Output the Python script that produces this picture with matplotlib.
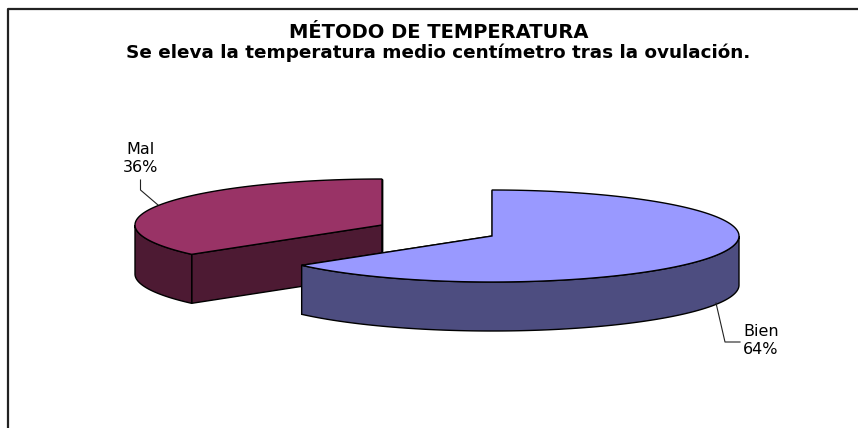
import numpy as np
import matplotlib
matplotlib.use('Agg')
import matplotlib.pyplot as plt
from matplotlib.patches import Polygon

plt.rcParams['font.family'] = ['DejaVu Sans']

# Chart data
categories = ['Bien', 'Mal']
values = [64, 36]
title_lines = ['MÉTODO DE TEMPERATURA',
               'Se eleva la temperatura medio centímetro tras la ovulación.']

top_colors = ['#9999ff', '#993366']
side_colors = ['#4d4d80', '#4d1a33']

rx, ry, depth = 247, 46, 49
centers = [(492, 236), (382, 225)]

# Image pixel coordinates, y pointing down
fig = plt.figure(figsize=(8.58, 4.28), dpi=100)
ax = fig.add_axes([0, 0, 1, 1])
ax.set_xlim(0, 858)
ax.set_ylim(428, 0)
ax.axis('off')

# Outer frame, only top and left show in the crop
ax.plot([7.5, 7.5, 858], [428, 8.5, 8.5], color='#222222', lw=1.6, zorder=1)


def rim(center, a0, a1, n=200):
    # angles in degrees, clockwise from 12 o'clock
    t = np.radians(np.linspace(a0, a1, n))
    return center[0] + rx * np.sin(t), center[1] - ry * np.cos(t)


def draw_slice(center, a0, a1, top, side, z):
    cx, cy = center
    # flat cut faces
    for a in (a0, a1):
        x, y = rim(center, a, a, 1)
        face = [(cx, cy), (x[0], y[0]), (x[0], y[0] + depth), (cx, cy + depth)]
        ax.add_patch(Polygon(face, closed=True, fc=side, ec='black', lw=1, zorder=z))
    # outer wall, front half only
    lo, hi = max(a0, 90), min(a1, 270)
    if hi > lo:
        x, y = rim(center, lo, hi)
        wall = np.r_[np.c_[x, y], np.c_[x, y + depth][::-1]]
        ax.add_patch(Polygon(wall, closed=True, fc=side, ec='black', lw=1, zorder=z + 0.1))
    # top face
    x, y = rim(center, a0, a1)
    pts = np.r_[[(cx, cy)], np.c_[x, y]]
    ax.add_patch(Polygon(pts, closed=True, fc=top, ec='black', lw=1, zorder=z + 0.2))


start = 0
draw_order = [1, 0]
angles = {}
for i, v in enumerate(values):
    angles[i] = (start, start + v / sum(values) * 360)
    start += v / sum(values) * 360

for i, z in zip(draw_order, [2, 3]):
    draw_slice(centers[i], angles[i][0], angles[i][1], top_colors[i], side_colors[i], z)

# Leader lines
ax.plot([716, 725, 740], [303, 342, 342], color='#222222', lw=0.8, zorder=5)
ax.plot([158, 140.5, 140.5], [205, 190, 180], color='#222222', lw=0.8, zorder=5)

# Labels
ax.text(743, 332, categories[0], fontsize=11.5, ha='left', va='center')
ax.text(743, 350, f'{values[0]}%', fontsize=11.5, ha='left', va='center')
ax.text(141, 150, categories[1], fontsize=11.5, ha='center', va='center')
ax.text(141, 168, f'{values[1]}%', fontsize=11.5, ha='center', va='center')

# Title
ax.text(439, 32, title_lines[0], fontsize=14, fontweight='bold', ha='center', va='center')
ax.text(438, 53, title_lines[1], fontsize=13.2, fontweight='bold', ha='center', va='center')

plt.savefig('out.png', dpi=100)
